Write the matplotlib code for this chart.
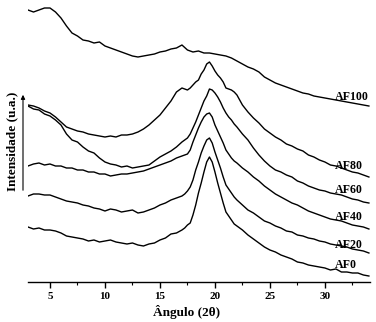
import matplotlib
matplotlib.use("Agg")
import matplotlib.pyplot as plt
from matplotlib.ticker import MultipleLocator

# ---- data (intensity in arbitrary units) ----
angle = [3, 3.5, 4, 4.5, 5, 5.5, 6, 6.5, 7, 7.5, 8, 8.5, 9, 9.5, 10, 10.5, 11, 11.5,
         12, 12.5, 13, 13.5, 14, 14.5, 15, 15.5, 16, 16.5, 17,
         17.25, 17.5, 17.75, 18, 18.25, 18.5, 18.75, 19, 19.25, 19.5, 19.75, 20,
         20.25, 20.5, 20.75, 21, 21.25, 21.5, 21.75, 22,
         22.5, 23, 23.5, 24, 24.5, 25, 25.5, 26, 26.5, 27, 27.5, 28, 28.5, 29,
         29.5, 30, 30.5, 31, 31.5, 32, 32.5, 33, 33.5, 34]

af0 = [55, 53, 54, 52, 52, 51, 49, 46, 45, 44, 43, 41, 42, 40, 41, 42, 40, 39,
       38, 39, 37, 36, 38, 39, 42, 44, 48, 49, 52,
       54, 57, 59, 67, 77, 89, 99, 110, 120, 125, 120, 110,
       99, 89, 79, 70, 66, 62, 58, 56,
       52, 47, 43, 39, 35, 32, 30, 27, 25, 23, 20, 19, 17, 16,
       15, 14, 12, 13, 10, 10, 9, 9, 7, 6]
af20 = [86, 88, 88, 87, 87, 85, 83, 81, 80, 79, 77, 76, 74, 73, 71, 73, 72, 70,
        71, 72, 69, 70, 72, 74, 77, 79, 82, 84, 86,
        88, 91, 95, 102, 112, 120, 129, 136, 142, 144, 139, 130,
        122, 114, 105, 97, 93, 89, 85, 82,
        77, 72, 69, 65, 61, 59, 56, 54, 51, 50, 47, 46, 44, 43,
        41, 40, 38, 37, 36, 35, 33, 32, 31, 29]
af40 = [116, 118, 119, 117, 118, 116, 116, 114, 114, 112, 112, 110, 110, 108, 108, 106, 107, 108,
        108, 109, 110, 111, 113, 115, 117, 119, 121, 124, 126,
        127, 128, 132, 140, 147, 154, 160, 165, 168, 169, 165, 157,
        151, 145, 139, 132, 128, 124, 121, 119,
        114, 110, 105, 101, 96, 92, 88, 85, 82, 79, 77, 74, 71, 69,
        67, 65, 63, 62, 61, 59, 57, 56, 55, 53]
af60 = [176, 173, 172, 168, 166, 162, 157, 148, 142, 140, 135, 131, 129, 124, 120, 118, 117, 115,
        116, 114, 115, 116, 117, 121, 125, 128, 131, 135, 140,
        142, 144, 148, 154, 160, 167, 174, 181, 186, 193, 192, 189,
        185, 180, 174, 169, 165, 162, 158, 155,
        148, 142, 134, 127, 121, 116, 112, 110, 107, 105, 101, 99, 96, 94,
        92, 91, 89, 88, 87, 85, 83, 82, 80, 79]
af80 = [177, 176, 174, 171, 169, 165, 160, 155, 153, 151, 150, 148, 147, 146, 145, 146, 145, 147,
        147, 148, 150, 153, 157, 162, 167, 174, 181, 190, 194,
        193, 192, 194, 197, 200, 202, 208, 212, 218, 220, 216, 211,
        207, 204, 200, 194, 193, 192, 190, 187,
        177, 170, 164, 159, 153, 149, 145, 142, 138, 136, 133, 131, 127, 125,
        122, 120, 117, 116, 114, 112, 110, 109, 107, 105]

angle100 = [3, 3.5, 4, 4.5, 5, 5.5, 6, 6.5, 7, 7.5, 8, 8.5, 9, 9.5, 10, 10.5, 11, 11.5,
            12, 12.5, 13, 13.5, 14, 14.5, 15, 15.5, 16, 16.5, 17, 17.5, 18, 18.5,
            19, 19.5, 20, 20.5, 21, 21.5, 22, 22.5, 23, 23.5, 24, 24.5, 25, 25.5,
            26, 26.5, 27, 27.5, 28, 28.5, 29, 29.5, 30, 30.5, 31, 31.5, 32, 32.5,
            33, 33.5, 34]
af100 = [272, 270, 272, 274, 274, 270, 264, 256, 249, 246, 242, 241, 239, 240, 236, 234, 232, 230,
         228, 226, 225, 226, 227, 228, 230, 231, 233, 234, 237, 232, 230, 231,
         229, 229, 228, 227, 226, 224, 221, 218, 215, 213, 210, 205, 202, 199,
         197, 195, 193, 191, 189, 188, 186, 185, 184, 183, 182, 181, 180, 179,
         178, 177, 176]

labels = ["AF0", "AF20", "AF40", "AF60", "AF80", "AF100"]
label_y = [17, 37, 65, 92, 116, 185]

xticks = [5, 10, 15, 20, 25, 30]

# ---- figure ----
W, H = 376, 322
fig = plt.figure(figsize=(W / 100, H / 100), dpi=100)
fig.patch.set_facecolor("white")
ax = fig.add_axes([28 / W, 40 / H, 342 / W, 280 / H])

font = "Liberation Serif"
lw = 1.0
for y in (af0, af20, af40, af60, af80):
    ax.plot(angle, y, color="black", lw=lw)
ax.plot(angle100, af100, color="black", lw=lw)

for lab, yy in zip(labels, label_y):
    ax.text(30.9, yy, lab, family=font, fontweight="bold", fontsize=8.6,
            ha="left", va="center", color="black")

ax.set_xlim(3, 34.1)
ax.set_ylim(0, 280)
for s in ("top", "left", "right"):
    ax.spines[s].set_visible(False)
ax.spines["bottom"].set_linewidth(1.0)
ax.set_yticks([])
ax.set_xticks(xticks)
ax.xaxis.set_minor_locator(MultipleLocator(2.5))
ax.tick_params(axis="x", which="major", direction="out", length=4, width=1.0, pad=3.5)
ax.tick_params(axis="x", which="minor", direction="out", length=2.5, width=0.8)
for t in ax.get_xticklabels():
    t.set_family(font)
    t.set_fontweight("bold")
    t.set_fontsize(8)

fig.text(187 / W, 1 - 312 / H, "Ângulo (2θ)", family=font, fontweight="bold",
         fontsize=9.5, ha="center", va="center")
fig.text(12.5 / W, 1 - 141 / H, "Intensidade (u.a.)", family=font, fontweight="bold",
         fontsize=9.5, ha="center", va="center", rotation=90)

ax.annotate("", xy=(23 / W, 1 - 92 / H), xytext=(23 / W, 1 - 193 / H),
            xycoords="figure fraction", textcoords="figure fraction",
            arrowprops=dict(arrowstyle="-|>", lw=0.8, color="black", mutation_scale=6))

fig.savefig("out.png", dpi=100, facecolor="white")
